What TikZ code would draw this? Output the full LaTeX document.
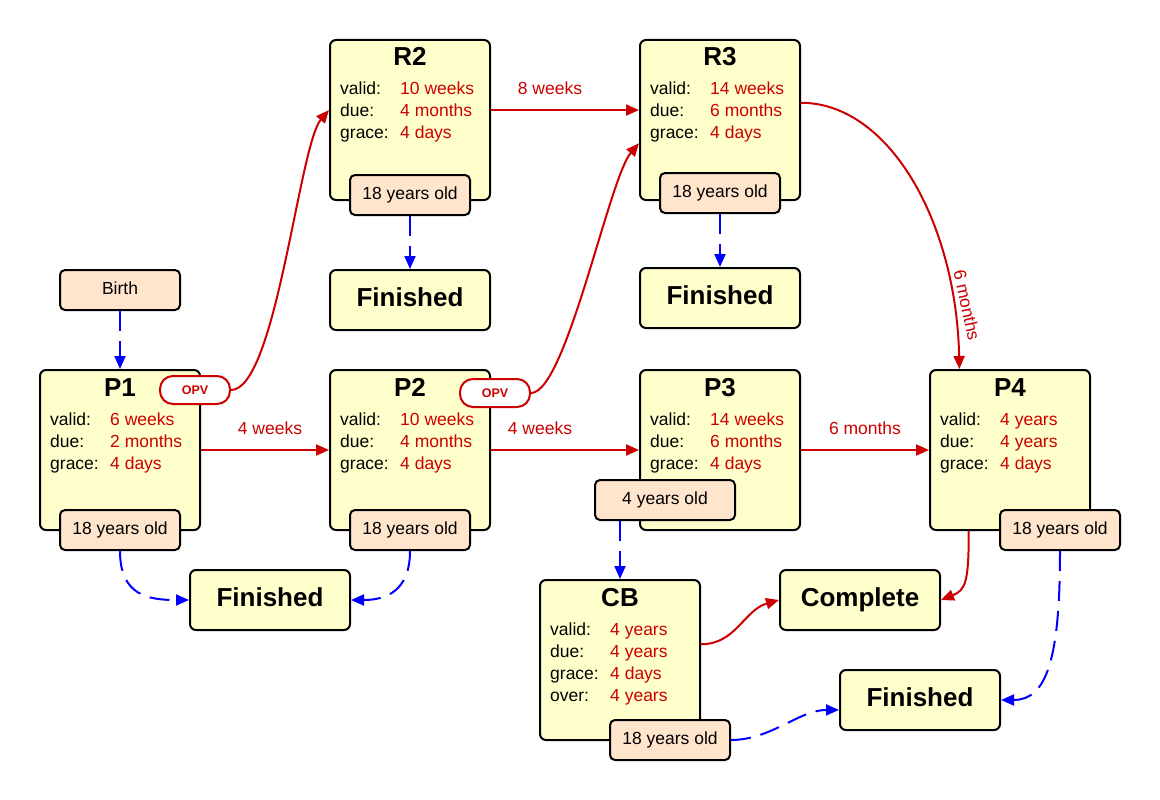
\documentclass[tikz,border=0pt]{standalone}
\usepackage{fontspec}
\setmainfont{Liberation Sans}
\usetikzlibrary{arrows.meta}
\newlength{\du}
\setlength{\du}{1pt}
\definecolor{boxyellow}{HTML}{FFFFCC}
\definecolor{tagpeach}{HTML}{FFE5CC}
\definecolor{darkred}{HTML}{CC0000}
\tikzset{
  dose/.style={draw=black, line width=2\du, rounded corners=6\du, fill=boxyellow,
    minimum width=160\du, minimum height=160\du, inner sep=0pt},
  endbox/.style={dose, minimum height=60\du, font=\bfseries\fontsize{26}{30}\selectfont,
    text height=18.5\du, text depth=6\du},
  agetag/.style={draw=black, line width=2\du, rounded corners=5\du, fill=tagpeach,
    minimum width=120\du, minimum height=40\du, inner sep=0pt,
    font=\fontsize{17.5}{21}\selectfont, text height=12.5\du, text depth=4\du},
  opvtag/.style={draw=darkred, line width=2\du, rounded corners=13\du, fill=white,
    minimum width=70\du, minimum height=28\du, inner sep=0pt, text=darkred,
    font=\bfseries\fontsize{12.5}{14}\selectfont},
  dosetitle/.style={anchor=base, inner sep=0pt, font=\bfseries\fontsize{26}{30}\selectfont},
  doserows/.style={anchor=base west, inner sep=0pt, font=\fontsize{17.5}{22}\selectfont},
  gaplabel/.style={inner sep=0pt, text=darkred, font=\fontsize{17.5}{21}\selectfont},
  nextdose/.style={draw=darkred, line width=2\du, -{Triangle[length=13pt,width=11pt]}},
  leaves/.style={draw=blue, line width=2\du, dash pattern=on 20\du off 10\du,
    -{Triangle[length=13pt,width=11pt]}},
}
\newcommand{\rowsthree}[3]{\begin{tabular}[t]{@{}p{60\du}@{}l@{}}
valid: & \textcolor{darkred}{#1}\\ due: & \textcolor{darkred}{#2}\\ grace: & \textcolor{darkred}{#3}
\end{tabular}}

\begin{document}
\begin{tikzpicture}
\pgftransformxscale{1.000000}
\pgftransformyscale{-1.000000}
\useasboundingbox (0\du,0\du) rectangle (1160\du,800\du);
% dose boxes
\node[dose] (r2) at (410\du,120\du) {};
\node[dose] (r3) at (720\du,120\du) {};
\node[dose] (p1) at (120\du,450\du) {};
\node[dose] (p2) at (410\du,450\du) {};
\node[dose] (p3) at (720\du,450\du) {};
\node[dose] (p4) at (1010\du,450\du) {};
\node[dose] (cb) at (620\du,660\du) {};
\node[dosetitle] at (410\du,66\du) {R2};
\node[dosetitle] at (720\du,66\du) {R3};
\node[dosetitle] at (120\du,396\du) {P1};
\node[dosetitle] at (410\du,396\du) {P2};
\node[dosetitle] at (720\du,396\du) {P3};
\node[dosetitle] at (1010\du,396\du) {P4};
\node[dosetitle] at (620\du,606\du) {CB};
\node[doserows] at (340\du,95\du) {\rowsthree{10 weeks}{4 months}{4 days}};
\node[doserows] at (650\du,95\du) {\rowsthree{14 weeks}{6 months}{4 days}};
\node[doserows] at (50\du,425\du) {\rowsthree{6 weeks}{2 months}{4 days}};
\node[doserows] at (340\du,425\du) {\rowsthree{10 weeks}{4 months}{4 days}};
\node[doserows] at (650\du,425\du) {\rowsthree{14 weeks}{6 months}{4 days}};
\node[doserows] at (940\du,425\du) {\rowsthree{4 years}{4 years}{4 days}};
\node[doserows] at (550\du,635\du) {\begin{tabular}[t]{@{}p{60\du}@{}l@{}}
valid: & \textcolor{darkred}{4 years}\\ due: & \textcolor{darkred}{4 years}\\
grace: & \textcolor{darkred}{4 days}\\ over: & \textcolor{darkred}{4 years}\end{tabular}};
% end states
\node[endbox] (finr2) at (410\du,300\du) {Finished};
\node[endbox] (finr3) at (720\du,298\du) {Finished};
\node[endbox] (finp) at (270\du,600\du) {Finished};
\node[endbox] (complete) at (860\du,600\du) {Complete};
\node[endbox] (fincb) at (920\du,700\du) {Finished};
% age tags
\node[agetag] (birth) at (120\du,290\du) {Birth};
\node[agetag] (r2age) at (410\du,195\du) {18 years old};
\node[agetag] (r3age) at (720\du,193\du) {18 years old};
\node[agetag] (p1age) at (120\du,530\du) {18 years old};
\node[agetag] (p2age) at (410\du,530\du) {18 years old};
\node[agetag, minimum width=140\du] (p3age) at (665\du,500\du) {4 years old};
\node[agetag] (p4age) at (1060\du,530\du) {18 years old};
\node[agetag] (cbage) at (670\du,740\du) {18 years old};
\node[opvtag] (p1opv) at (195\du,390\du) {OPV};
\node[opvtag] (p2opv) at (495\du,393\du) {OPV};
% next dose
\draw[nextdose] (p1.east) -- (p2.west);
\draw[nextdose] (p2.east) -- (p3.west);
\draw[nextdose] (p3.east) -- (p4.west);
\draw[nextdose] (r2.7) -- (r3.173);
\draw[nextdose] (p1opv.east) .. controls +(45\du,0\du) and +(-30\du,35\du) .. (r2.173);
\draw[nextdose] (p2opv.east) .. controls +(35\du,0\du) and +(-30\du,35\du) .. (r3.196);
\draw[nextdose] (r3.12) .. controls +(88\du,0\du) and +(-3\du,-147\du) .. (p4.122);
\draw[nextdose] (p4.243) .. controls +(0\du,50\du) and +(25\du,-10\du) .. (complete.east);
\draw[nextdose] (cb.11) .. controls +(35\du,0\du) and +(-35\du,10\du) .. (complete.west);
\node[gaplabel] at (270\du,428\du) {4 weeks};
\node[gaplabel] at (540\du,428\du) {4 weeks};
\node[gaplabel] at (865\du,428\du) {6 months};
\node[gaplabel] at (550\du,88\du) {8 weeks};
\node[gaplabel, rotate=-78] at (967\du,305\du) {6 months};
% leaving the schedule
\draw[leaves] (birth.south) -- (p1.north);
\draw[leaves] (r2age.south) -- (finr2.north);
\draw[leaves] (r3age.south) -- (finr3.north);
\draw[leaves] (p3age.south -| cb.north) -- (cb.north);
\draw[leaves] (p1age.south) .. controls +(0\du,45\du) and +(-40\du,0\du) .. (finp.west);
\draw[leaves] (p2age.south) .. controls +(0\du,40\du) and +(35\du,0\du) .. (finp.east);
\draw[leaves] (cbage.east) .. controls +(40\du,0\du) and +(-40\du,0\du) .. (fincb.187);
\draw[leaves] (p4age.south) .. controls +(0\du,110\du) and +(45\du,0\du) .. (fincb.east);
\end{tikzpicture}
\end{document}
